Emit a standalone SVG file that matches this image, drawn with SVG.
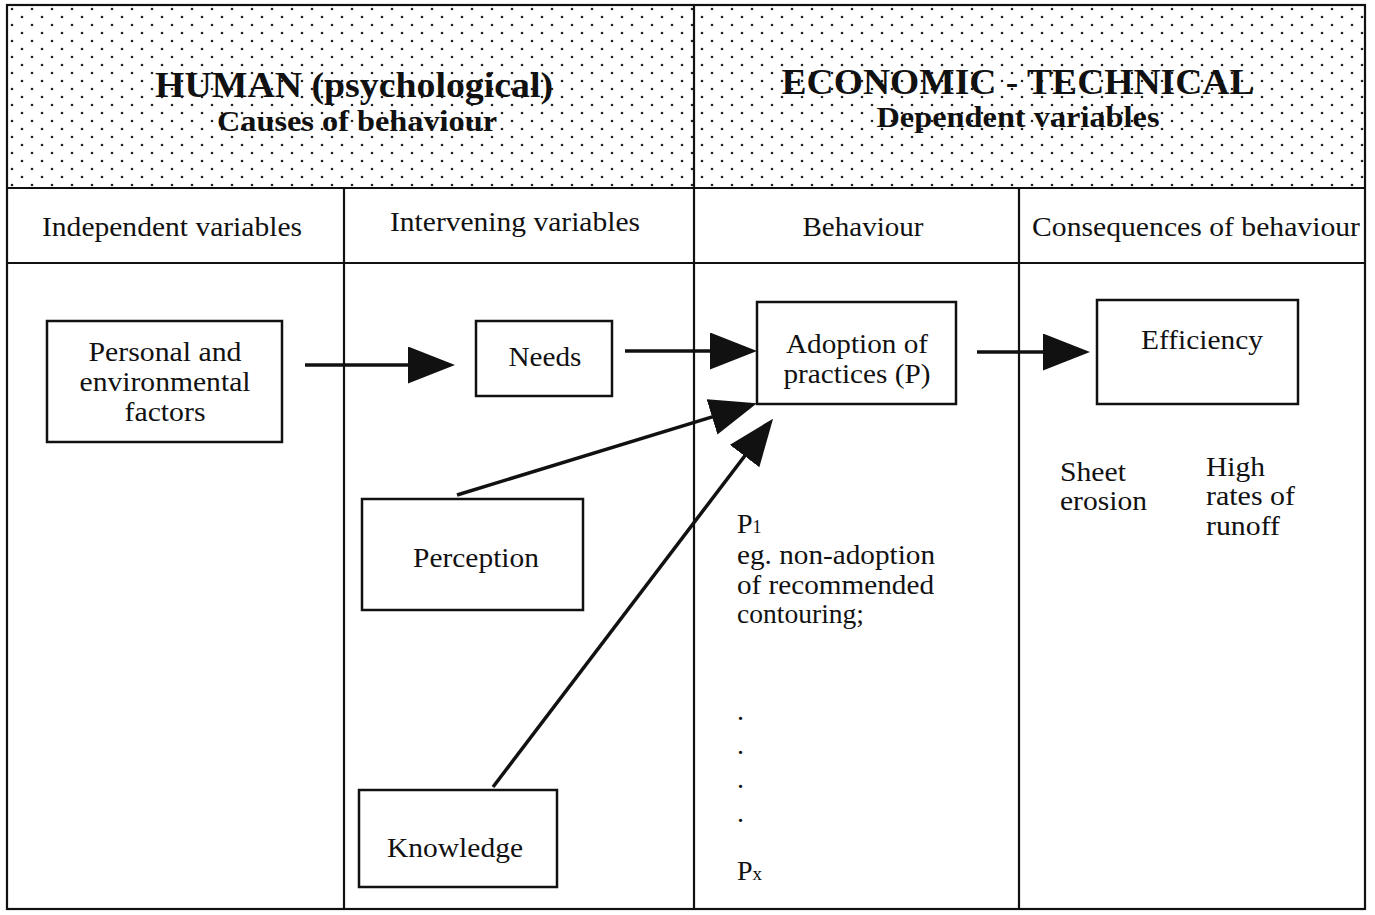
<svg xmlns="http://www.w3.org/2000/svg" width="1375" height="915" viewBox="0 0 1375 915">
  <defs>
    <pattern id="dots" x="7" y="5" width="20" height="16" patternUnits="userSpaceOnUse">
      <circle cx="5" cy="4" r="1.3" fill="#222"/>
      <circle cx="15" cy="12" r="1.3" fill="#222"/>
    </pattern>
    <marker id="head" markerUnits="userSpaceOnUse" markerWidth="47" markerHeight="37" viewBox="0 0 47 37" refX="37" refY="18.5" orient="auto">
      <path d="M0,0 L47,18.5 L0,37 z" fill="#111"/>
    </marker>
    <style>
      text { font-family: "Liberation Serif", "Times New Roman", serif; fill: #111; }
      .title { font-size: 36px; font-weight: bold; }
      .sub { font-size: 30px; font-weight: bold; }
      .t { font-size: 28px; }
      .mid { text-anchor: middle; }
      .grid { stroke: #111; stroke-width: 2.2; fill: none; }
      .box { stroke: #111; stroke-width: 2.5; fill: #fff; }
      .link { stroke: #111; stroke-width: 3.5; fill: none; marker-end: url(#head); }
    </style>
  </defs>

  <rect width="1375" height="915" fill="#fff"/>

  <!-- header band -->
  <rect x="7" y="5" width="1358" height="183" fill="url(#dots)"/>

  <!-- table frame and rules -->
  <g id="table">
    <rect x="7" y="5" width="1358" height="904" class="grid" stroke-width="3"/>
    <line x1="7" y1="188" x2="1365" y2="188" class="grid"/>
    <line x1="7" y1="263" x2="1365" y2="263" class="grid"/>
    <line x1="344" y1="188" x2="344" y2="909" class="grid"/>
    <line x1="694" y1="5" x2="694" y2="909" class="grid" stroke-width="3"/>
    <line x1="1019" y1="188" x2="1019" y2="909" class="grid"/>
  </g>

  <!-- header titles -->
  <g id="header-human">
    <text x="354" y="97" class="title mid" textLength="398" lengthAdjust="spacingAndGlyphs">HUMAN (psychological)</text>
    <text x="357" y="131" class="sub mid" textLength="280" lengthAdjust="spacingAndGlyphs">Causes of behaviour</text>
  </g>
  <g id="header-economic">
    <text x="1018" y="94" class="title mid" textLength="473" lengthAdjust="spacingAndGlyphs">ECONOMIC - TECHNICAL</text>
    <text x="1018" y="127" class="sub mid" textLength="283" lengthAdjust="spacingAndGlyphs">Dependent variables</text>
  </g>

  <!-- column headings -->
  <g id="col-independent"><text x="172" y="236" class="t mid" textLength="260" lengthAdjust="spacingAndGlyphs">Independent variables</text></g>
  <g id="col-intervening"><text x="515" y="231" class="t mid" textLength="250" lengthAdjust="spacingAndGlyphs">Intervening variables</text></g>
  <g id="col-behaviour"><text x="863" y="236" class="t mid" textLength="121" lengthAdjust="spacingAndGlyphs">Behaviour</text></g>
  <g id="col-consequences"><text x="1196" y="236" class="t mid" textLength="328" lengthAdjust="spacingAndGlyphs">Consequences of behaviour</text></g>

  <!-- connectors -->
  <g id="connectors">
    <line x1="305" y1="365" x2="445" y2="365" class="link"/>
    <line x1="625" y1="351" x2="747" y2="351" class="link"/>
    <line x1="977" y1="352" x2="1080" y2="352" class="link"/>
    <line x1="457" y1="495" x2="747.4" y2="406.1" class="link"/>
    <line x1="493" y1="787" x2="767" y2="426.6" class="link"/>
  </g>

  <!-- nodes -->
  <g id="node-personal">
    <rect x="47" y="321" width="235" height="121" class="box"/>
    <text x="165" y="361" class="t mid" textLength="153" lengthAdjust="spacingAndGlyphs">Personal and</text>
    <text x="165" y="391" class="t mid" textLength="171" lengthAdjust="spacingAndGlyphs">environmental</text>
    <text x="165" y="421" class="t mid" textLength="81" lengthAdjust="spacingAndGlyphs">factors</text>
  </g>
  <g id="node-needs">
    <rect x="476" y="321" width="136" height="75" class="box"/>
    <text x="545" y="366" class="t mid" textLength="73" lengthAdjust="spacingAndGlyphs">Needs</text>
  </g>
  <g id="node-perception">
    <rect x="362" y="499" width="221" height="111" class="box"/>
    <text x="476" y="567" class="t mid" textLength="126" lengthAdjust="spacingAndGlyphs">Perception</text>
  </g>
  <g id="node-knowledge">
    <rect x="359" y="790" width="198" height="97" class="box"/>
    <text x="455" y="857" class="t mid" textLength="136" lengthAdjust="spacingAndGlyphs">Knowledge</text>
  </g>
  <g id="node-adoption">
    <rect x="757" y="302" width="199" height="102" class="box"/>
    <text x="857" y="353" class="t mid" textLength="142" lengthAdjust="spacingAndGlyphs">Adoption of</text>
    <text x="857" y="383" class="t mid" textLength="147" lengthAdjust="spacingAndGlyphs">practices (P)</text>
  </g>
  <g id="node-efficiency">
    <rect x="1097" y="300" width="201" height="104" class="box"/>
    <text x="1202" y="349" class="t mid" textLength="122" lengthAdjust="spacingAndGlyphs">Efficiency</text>
  </g>

  <!-- behaviour notes -->
  <g id="practices-list">
    <text x="737" y="533" class="t">P<tspan font-size="18">1</tspan></text>
    <text x="737" y="564" class="t" textLength="198" lengthAdjust="spacingAndGlyphs">eg. non-adoption</text>
    <text x="737" y="594" class="t" textLength="197" lengthAdjust="spacingAndGlyphs">of recommended</text>
    <text x="737" y="623" class="t" textLength="127" lengthAdjust="spacingAndGlyphs">contouring;</text>
    <text x="737" y="720" class="t">.</text>
    <text x="737" y="754" class="t">.</text>
    <text x="737" y="788" class="t">.</text>
    <text x="737" y="822" class="t">.</text>
    <text x="737" y="880" class="t">P<tspan font-size="19">x</tspan></text>
  </g>

  <!-- consequence notes -->
  <g id="consequence-notes">
    <text x="1060" y="481" class="t" textLength="66" lengthAdjust="spacingAndGlyphs">Sheet</text>
    <text x="1060" y="510" class="t" textLength="87" lengthAdjust="spacingAndGlyphs">erosion</text>
    <text x="1206" y="476" class="t" textLength="59" lengthAdjust="spacingAndGlyphs">High</text>
    <text x="1206" y="505" class="t" textLength="89" lengthAdjust="spacingAndGlyphs">rates of</text>
    <text x="1206" y="535" class="t" textLength="74" lengthAdjust="spacingAndGlyphs">runoff</text>
  </g>
</svg>
